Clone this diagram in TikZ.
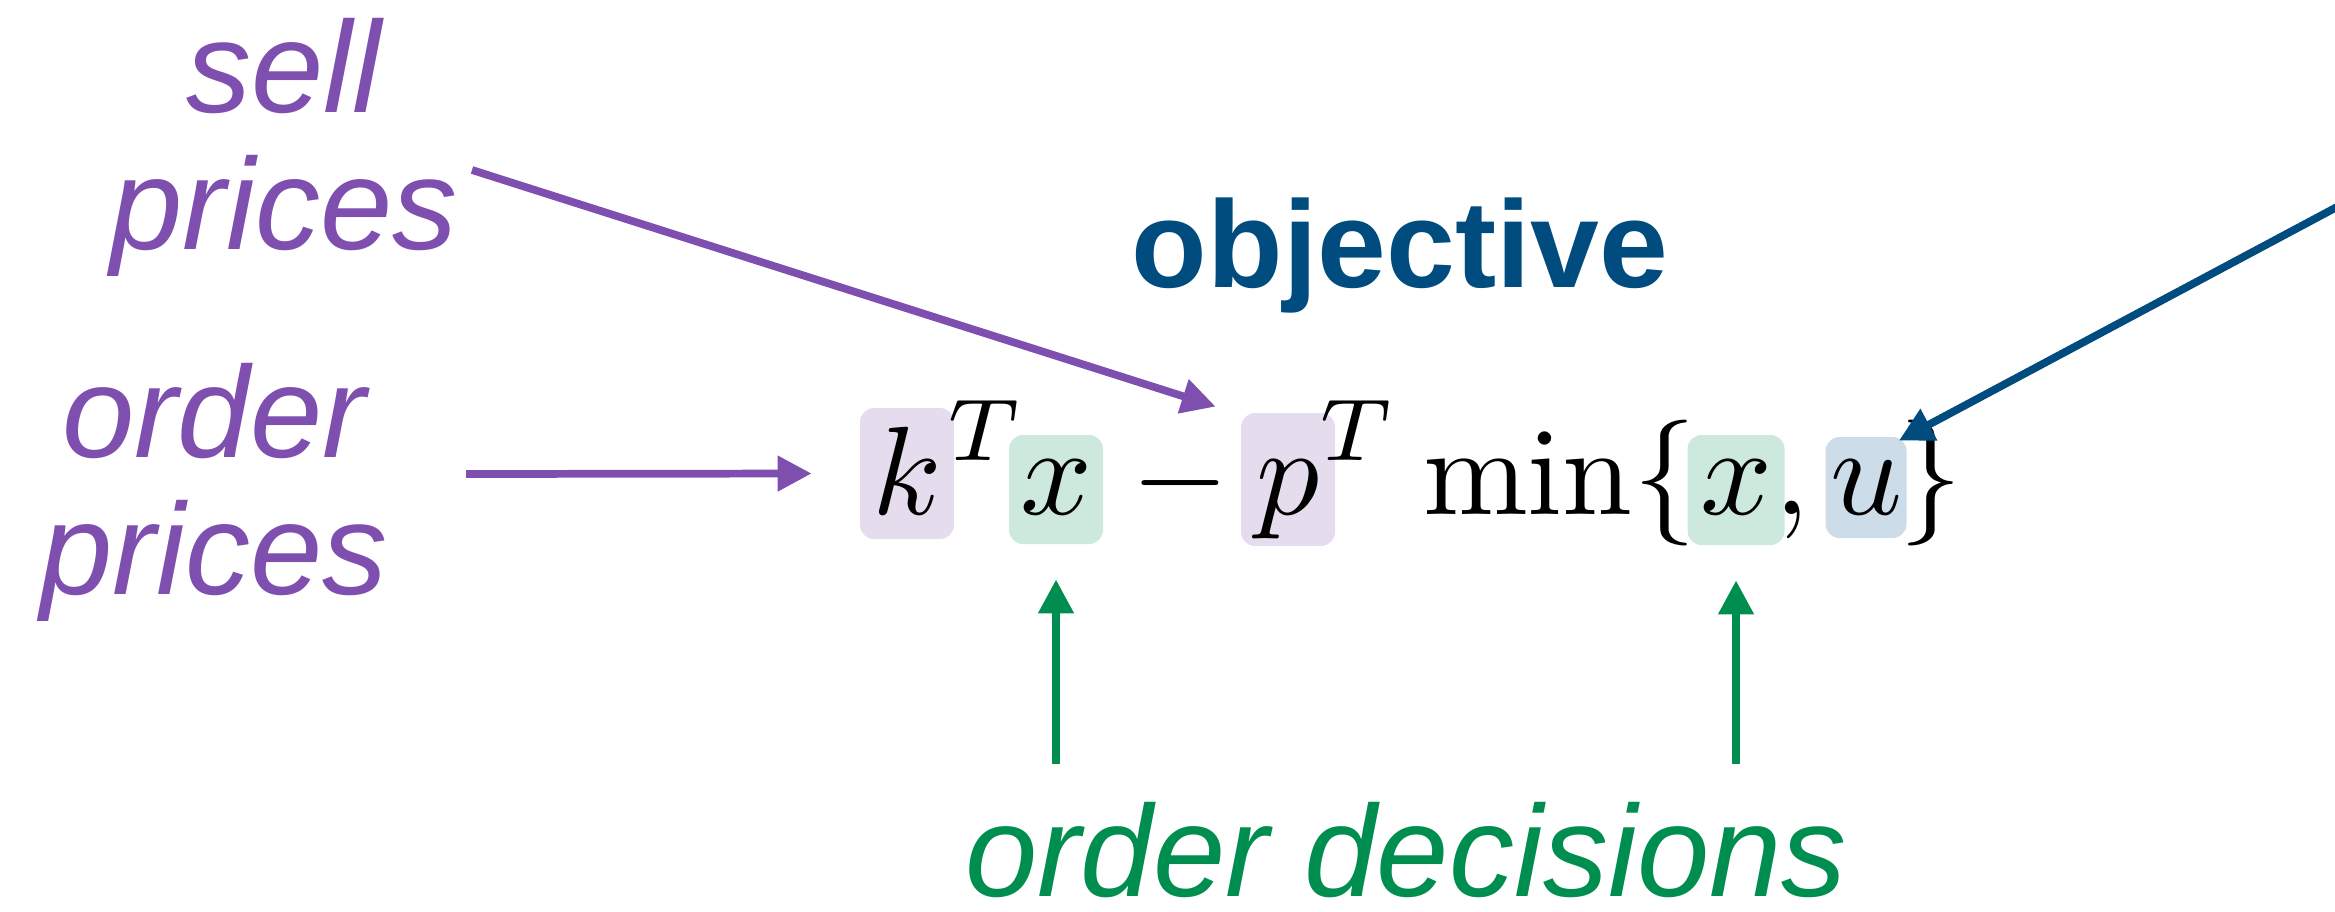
\documentclass[tikz,border=0pt]{standalone}
\usepackage{graphicx}
\usepackage{fontspec}
\newfontfamily\labelfont{Liberation Sans}
\usetikzlibrary{arrows.meta,positioning}
\definecolor{mlpurple}{RGB}{127,79,175}
\definecolor{mlgreen}{RGB}{0,142,80}
\definecolor{mlblue}{RGB}{0,76,127}
\definecolor{mlpurplebg}{RGB}{229,221,238}
\definecolor{mlgreenbg}{RGB}{205,232,221}
\definecolor{mlbluebg}{RGB}{205,220,233}
\newcommand{\fmath}[1]{\scalebox{1.79}{$#1$}}
\tikzset{
  lbl/.style={font=\labelfont\itshape\fontsize{18.5}{19.5}\selectfont, align=center, inner sep=0pt},
  sym/.style={inner sep=0pt, anchor=base, font=\fontsize{10}{12}\selectfont},
  hl/.style={sym, rounded corners=0.07cm},
  supT/.style={sym},
  arr/.style={line width=1.1pt, -{Triangle[length=0.17cm,width=0.17cm]}}
}
\begin{document}
\begin{tikzpicture}
\useasboundingbox (0,0) rectangle (11.675,4.555);
% Objective formula
\node[hl, fill=mlpurplebg, minimum width=0.47cm, text height=0.53cm, text depth=0.125cm] (k) at (4.535,1.985) {\fmath{k}};
\node[supT] (kT) at (4.92,2.255) {\fmath{\scriptstyle T}};
\node[hl, fill=mlgreenbg, minimum width=0.47cm, text height=0.395cm, text depth=0.15cm] (x1) at (5.28,1.985) {\fmath{x}};
\node[sym] (minus) at (5.9,1.985) {\fmath{-}};
\node[hl, fill=mlpurplebg, minimum width=0.47cm, text height=0.505cm, text depth=0.16cm] (p) at (6.44,1.985) {\fmath{p}};
\node[supT] (pT) at (6.78,2.255) {\fmath{\scriptstyle T}};
\node[sym] (min) at (7.64,1.985) {\fmath{\min}};
\node[sym] (lbrace) at (8.325,1.985) {\fmath{\{}};
\node[hl, fill=mlgreenbg, minimum width=0.485cm, text height=0.395cm, text depth=0.155cm] (x2) at (8.68,1.985) {\fmath{x}};
\node[sym] (comma) at (8.96,1.985) {\fmath{,}};
\node[hl, fill=mlbluebg, minimum width=0.405cm, text height=0.385cm, text depth=0.12cm] (u) at (9.33,1.985) {\fmath{u}};
\node[sym] (rbrace) at (9.655,1.985) {\fmath{\}}};
% Labels
\node[font=\labelfont\bfseries\fontsize{17.6}{20}\selectfont, text=mlblue, anchor=base, inner sep=0pt] (obj) at (7.0,3.12) {objective};
\node[lbl, text=mlpurple] (sell) at (1.42,3.8175) {sell\\prices};
\node[lbl, text=mlpurple] (order) at (1.07,2.095) {order\\prices};
\node[lbl, text=mlgreen, anchor=base] (dec) at (7.03,0.075) {order decisions};
% Arrows
\coordinate (selltail) at (2.36,3.705);
\coordinate (ordertail) at (2.33,2.185);
\coordinate (dectail1) at (5.28,0.735);
\coordinate (dectail2) at (8.68,0.735);
\coordinate (captail) at (11.75,3.555);
\draw[arr, mlpurple] (selltail) -- ([xshift=-0.12cm,yshift=0.025cm]p.north west);
\draw[arr, mlpurple] (ordertail) -- ([xshift=-0.235cm]k.west);
\draw[arr, mlgreen] (dectail1) -- ([yshift=-0.17cm]x1.south);
\draw[arr, mlgreen] (dectail2) -- ([yshift=-0.17cm]x2.south);
\draw[arr, mlblue] (captail) -- ([xshift=-0.045cm,yshift=-0.025cm]u.north east);
\end{tikzpicture}
\end{document}
